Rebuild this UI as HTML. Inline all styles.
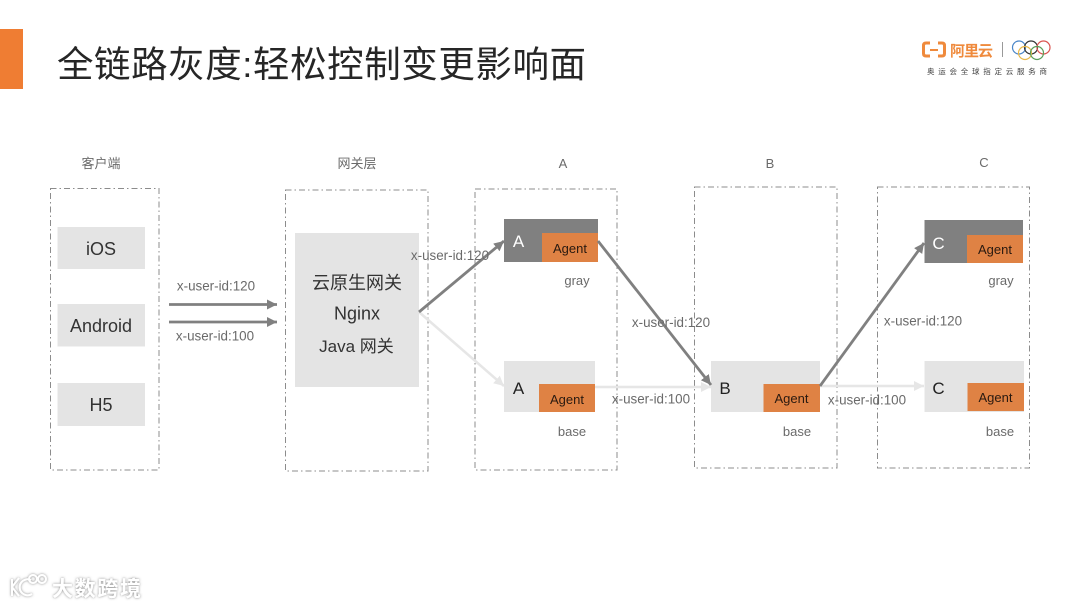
<!DOCTYPE html>
<html><head><meta charset="utf-8"><style>
html,body{margin:0;padding:0;background:#fff;width:1080px;height:608px;overflow:hidden}
svg{display:block}
text{font-family:"Liberation Sans","Noto Sans CJK SC",sans-serif}
.d{fill:none;stroke:#8c8c8c;stroke-width:1;stroke-dasharray:6 3 1.5 3}
.n{fill:#e4e4e4}.g{fill:#808080}.o{fill:#df8244}
.l{font-size:13.4px;fill:#6a6a6a;text-anchor:middle}
.h{font-size:13px;fill:#6a6a6a;text-anchor:middle}
.ag{font-size:13px;fill:#2a1a10;text-anchor:middle}
.t{font-size:18px;fill:#333;text-anchor:middle}
</style></head><body>
<svg width="1080" height="608" viewBox="0 0 1080 608" xmlns="http://www.w3.org/2000/svg">
<defs>
<marker id="ag" markerUnits="userSpaceOnUse" markerWidth="12" markerHeight="12" refX="10" refY="5" orient="auto"><path d="M0 0L10 5L0 10z" fill="#808080"/></marker>
<marker id="al" markerUnits="userSpaceOnUse" markerWidth="12" markerHeight="12" refX="10" refY="5" orient="auto"><path d="M0 0L10 5L0 10z" fill="#e6e6e6"/></marker>
<filter id="ws" x="-10%" y="-30%" width="120%" height="160%"><feDropShadow dx="0" dy="0" stdDeviation="1.2" flood-color="#777" flood-opacity="0.9"/></filter>
</defs>
<rect x="0" y="29" width="23" height="60" fill="#ef7d33"/>
<text x="57" y="77" font-size="36.5" fill="#262626" textLength="529" lengthAdjust="spacing">全链路灰度:轻松控制变更影响面</text>

<!-- logo -->
<g fill="none" stroke="#ef8a3c" stroke-width="3">
<path d="M930 43h-4q-2.500 0 -2.500 2.500v8q0 2.500 2.500 2.500h4"/><path d="M938 43h4q2.500 0 2.500 2.500v8q0 2.500 -2.500 2.500h-4"/><path d="M930 50h8" stroke-width="2"/>
</g>
<text x="950" y="56" font-size="15" font-weight="bold" fill="#ef8a3c" textLength="43" lengthAdjust="spacing">阿里云</text>
<rect x="1002" y="42" width="1" height="15" fill="#999"/>
<g fill="none" stroke-width="1.2">
<circle cx="1019" cy="47.500" r="6.500" stroke="#4a86c8"/><circle cx="1031" cy="47.500" r="6.500" stroke="#333"/><circle cx="1043.500" cy="47.500" r="6.500" stroke="#d9534f"/>
<circle cx="1025" cy="53" r="6.500" stroke="#e8b84a"/><circle cx="1037" cy="53" r="6.500" stroke="#5a9e5a"/>
</g>
<text x="927" y="74" font-size="7.500" fill="#444" textLength="120">奥运会全球指定云服务商</text>

<!-- column headers -->
<text x="101" y="168" class="h">客户端</text>
<text x="357" y="168" class="h">网关层</text>
<text x="563" y="168" class="h">A</text>
<text x="770" y="168" class="h">B</text>
<text x="984" y="167" class="h">C</text>

<!-- dashed boxes -->
<rect class="d" x="50.500" y="188.500" width="108.500" height="281.500"/>
<rect class="d" x="285.500" y="190" width="142.500" height="281"/>
<rect class="d" x="475" y="189" width="142" height="281"/>
<rect class="d" x="694.500" y="187" width="142.500" height="281"/>
<rect class="d" x="877.500" y="187" width="152" height="281"/>

<!-- client nodes -->
<rect class="n" x="57.500" y="227" width="87.500" height="42"/>
<rect class="n" x="57.500" y="304" width="87.500" height="42.500"/>
<rect class="n" x="57.500" y="383" width="87.500" height="43"/>
<text x="101" y="255" class="t">iOS</text>
<text x="101" y="332" class="t">Android</text>
<text x="101" y="411" class="t">H5</text>

<!-- gateway -->
<rect class="n" x="295" y="233" width="124" height="154"/>
<text x="357" y="289" class="t">云原生网关</text>
<text x="357" y="319.500" class="t">Nginx</text>
<text x="356.500" y="352" class="t" style="font-size:17px">Java 网关</text>

<!-- light connectors -->
<g fill="none" stroke="#e6e6e6" stroke-width="2.500">
<path d="M419 312L504 386" marker-end="url(#al)"/>
<path d="M595 387H711" marker-end="url(#al)"/>
<path d="M820 386H924" marker-end="url(#al)"/>
</g>

<!-- service nodes -->
<rect class="g" x="504" y="219" width="94" height="43"/>
<rect class="o" x="542" y="233" width="56" height="29"/>
<rect class="n" x="504" y="361" width="91" height="51"/>
<rect class="o" x="539" y="384" width="56" height="28"/>
<rect class="n" x="711" y="361" width="109" height="51"/>
<rect class="o" x="763.500" y="384" width="56.500" height="28"/>
<rect class="g" x="924.500" y="220" width="98.500" height="43"/>
<rect class="o" x="967" y="235" width="56" height="28"/>
<rect class="n" x="924.500" y="361" width="99.500" height="51"/>
<rect class="o" x="967.500" y="383" width="56.500" height="28"/>

<text x="518.500" y="247" font-size="17" fill="#fff" text-anchor="middle">A</text>
<text x="518.500" y="394" font-size="17" fill="#222" text-anchor="middle">A</text>
<text x="725" y="394" font-size="17" fill="#222" text-anchor="middle">B</text>
<text x="938.500" y="249" font-size="17" fill="#fff" text-anchor="middle">C</text>
<text x="938.500" y="394" font-size="17" fill="#222" text-anchor="middle">C</text>
<text x="570" y="253" class="ag">Agent</text>
<text x="567" y="404" class="ag">Agent</text>
<text x="791.500" y="403" class="ag">Agent</text>
<text x="995" y="254" class="ag">Agent</text>
<text x="995.500" y="402" class="ag">Agent</text>

<text x="577" y="285" class="h">gray</text>
<text x="572" y="436" class="h">base</text>
<text x="797" y="436" class="h">base</text>
<text x="1001" y="285" class="h">gray</text>
<text x="1000" y="436" class="h">base</text>

<!-- dark connectors -->
<g fill="none" stroke="#808080" stroke-width="2.800">
<path d="M169 304.500H277" marker-end="url(#ag)"/>
<path d="M169 322H277" marker-end="url(#ag)"/>
<path d="M419 312L504 241" marker-end="url(#ag)"/>
<path d="M598 241L711 385" marker-end="url(#ag)"/>
<path d="M820 386L924 243" marker-end="url(#ag)"/>
</g>

<!-- connector labels -->
<text x="216" y="290.700" class="l">x-user-id:120</text>
<text x="215" y="340.700" class="l">x-user-id:100</text>
<text x="450" y="260" class="l">x-user-id:120</text>
<text x="671" y="327" class="l">x-user-id:120</text>
<text x="651" y="403.700" class="l">x-user-id:100</text>
<text x="867" y="404.700" class="l">x-user-id:100</text>
<text x="923" y="325.700" class="l">x-user-id:120</text>

<!-- watermark -->
<g filter="url(#ws)">
<g fill="none" stroke="#fff" stroke-width="2">
<path d="M12 579V596M12 587L19 578M12 587L19 596"/>
<path d="M31 580a8 8 0 1 0 1 14"/>
<circle cx="33" cy="579" r="4"/><circle cx="42" cy="579" r="4"/>
</g>
<text x="52" y="596" font-size="21" font-weight="bold" fill="#fff" textLength="89">大数跨境</text>
</g>
</svg>
</body></html>
